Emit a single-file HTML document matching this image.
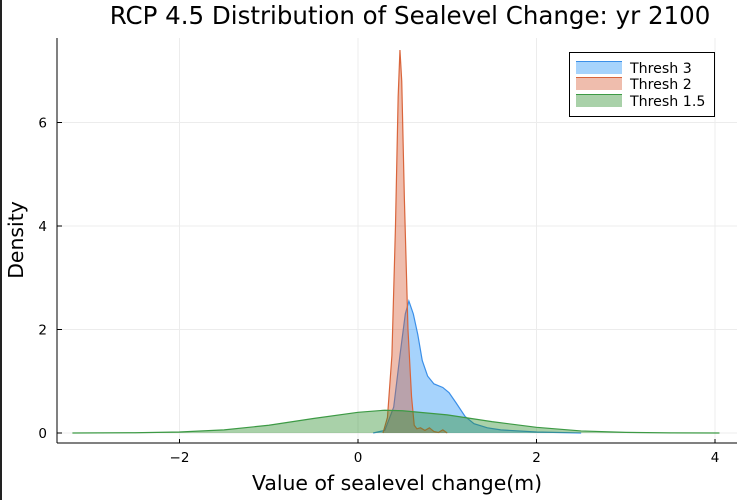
<!DOCTYPE html>
<html><head><meta charset="utf-8"><style>
body{margin:0;background:#fff;}
svg{display:block;font-family:"DejaVu Sans","Liberation Sans",sans-serif;}
</style></head><body>
<svg id="c" width="752" height="500">
<rect x="0" y="0" width="2" height="500" fill="#222"/>
<text x="410" y="24" font-size="24.5" text-anchor="middle" fill="#000">RCP 4.5 Distribution of Sealevel Change: yr 2100</text>
<g id="grid"></g>
<g id="series"></g>
<line x1="57" y1="38" x2="57" y2="443" stroke="#000" stroke-width="1"/>
<line x1="57" y1="443" x2="737" y2="443" stroke="#000" stroke-width="1"/>
<g id="ticks"></g>
<text x="397" y="490" font-size="20.4" text-anchor="middle">Value of sealevel change(m)</text>
<text x="23" y="240" font-size="20.4" text-anchor="middle" transform="rotate(-90 23 240)">Density</text>
<g>
<rect x="569.5" y="52.5" width="145" height="64" fill="#fff" stroke="#000" stroke-width="1"/>
<g><rect x="576" y="61" width="46" height="13" fill="rgba(0,130,245,0.35)"/><line x1="576" y1="61.5" x2="622" y2="61.5" stroke="#3b8fe8"/><text x="630" y="73" font-size="14.2">Thresh 3</text></g>
<g><rect x="576" y="77" width="46" height="13" fill="rgba(215,90,50,0.4)"/><line x1="576" y1="77.5" x2="622" y2="77.5" stroke="#d9653b"/><text x="630" y="89" font-size="14.2">Thresh 2</text></g>
<g><rect x="576" y="94" width="46" height="13" fill="rgba(40,140,40,0.4)"/><line x1="576" y1="94.5" x2="622" y2="94.5" stroke="#3d9a45"/><text x="630" y="106" font-size="14.2">Thresh 1.5</text></g>
</g>
</svg>
<script>
const xTicks=[-2,0,2,4];
const yTicks=[0,2,4,6];
const greenX=[-3.2,-2.5,-2,-1.5,-1,-0.5,0,0.3,0.5,1,1.5,2,2.5,3,3.5,4.05];
const greenY=[0,0.005,0.02,0.06,0.15,0.28,0.40,0.44,0.43,0.35,0.22,0.11,0.04,0.012,0.003,0];
const orangeX=[0.28,0.33,0.38,0.42,0.45,0.47,0.49,0.52,0.56,0.60,0.63,0.66,0.7,0.75,0.8,0.85,0.9,0.95,1.0];
const orangeY=[0,0.3,1.5,4,6.5,7.4,6.8,4.5,2.0,0.7,0.15,0.08,0.1,0.05,0.1,0.03,0.01,0.06,0];
const blueX=[0.17,0.3,0.4,0.47,0.53,0.57,0.62,0.67,0.72,0.78,0.85,0.95,1.02,1.1,1.2,1.3,1.45,1.6,2.0,2.5];
const blueY=[0,0.05,0.5,1.5,2.3,2.55,2.3,1.9,1.4,1.1,0.95,0.88,0.78,0.58,0.32,0.18,0.1,0.06,0.02,0];
const NS='http://www.w3.org/2000/svg';
function sx(v){return 358+v*89.25;}
function sy(v){return 433-v*51.75;}
const grid=document.getElementById('grid'),ticks=document.getElementById('ticks'),ser=document.getElementById('series');
xTicks.forEach(t=>{
 const l=document.createElementNS(NS,'line');
 
 
 l.setAttribute('x1',sx(t));l.setAttribute('x2',sx(t));l.setAttribute('y1',38);l.setAttribute('y2',443);l.setAttribute('stroke','#ececec');grid.appendChild(l);
 const k=document.createElementNS(NS,'line');
 
 
 k.setAttribute('x1',sx(t));k.setAttribute('x2',sx(t));k.setAttribute('y1',443);k.setAttribute('y2',439);k.setAttribute('stroke','#000');ticks.appendChild(k);
 const tx=document.createElementNS(NS,'text');
 
 
 tx.setAttribute('x',sx(t));tx.setAttribute('y',462);tx.setAttribute('font-size','13.5');tx.setAttribute('text-anchor','middle');
 tx.textContent=t<0?'\u2212'+(-t):String(t);ticks.appendChild(tx);
});
yTicks.forEach(t=>{
 const l=document.createElementNS(NS,'line');
 
 
 l.setAttribute('x1',57);l.setAttribute('x2',737);l.setAttribute('y1',sy(t));l.setAttribute('y2',sy(t));l.setAttribute('stroke','#ececec');grid.appendChild(l);
 const k=document.createElementNS(NS,'line');
 
 
 k.setAttribute('x1',57);k.setAttribute('x2',62);k.setAttribute('y1',sy(t));k.setAttribute('y2',sy(t));k.setAttribute('stroke','#000');ticks.appendChild(k);
 const tx=document.createElementNS(NS,'text');
 
 
 tx.setAttribute('x',47);tx.setAttribute('y',sy(t)+5);tx.setAttribute('font-size','13.5');tx.setAttribute('text-anchor','end');
 tx.textContent=String(t);ticks.appendChild(tx);
});
function area(xs,ys,fill,stroke,name){
 let d='M'+sx(xs[0])+','+sy(0);
 xs.forEach((x,i)=>{d+=' L'+sx(x)+','+sy(ys[i]);});
 d+=' L'+sx(xs[xs.length-1])+','+sy(0)+' Z';
 const p=document.createElementNS(NS,'path');
 
 
 p.setAttribute('d',d);p.setAttribute('fill',fill);ser.appendChild(p);
 let d2='';xs.forEach((x,i)=>{d2+=(i?' L':'M')+sx(x)+','+sy(ys[i]);});
 const l=document.createElementNS(NS,'path');
 
 
 l.setAttribute('d',d2);l.setAttribute('fill','none');l.setAttribute('stroke',stroke);l.setAttribute('stroke-width','1.2');ser.appendChild(l);
}
area(blueX,blueY,'rgba(0,130,245,0.35)','#3b8fe8','thresh-3');
area(orangeX,orangeY,'rgba(215,90,50,0.4)','#d9653b','thresh-2');
area(greenX,greenY,'rgba(40,140,40,0.4)','#3d9a45','thresh-1-5');
</script>
</body></html>
